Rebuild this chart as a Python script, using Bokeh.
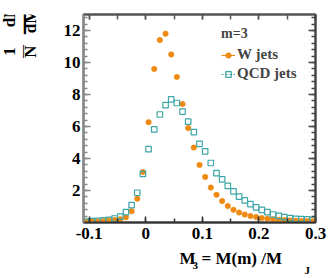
import math
from bokeh.plotting import figure
from bokeh.layouts import column, row
from bokeh.models import (ColumnDataSource, FixedTicker, LinearAxis, Label, Legend, LegendItem, Range1d)
from bokeh.embed import file_html
from bokeh.resources import INLINE

# ---------------- data ----------------
bin_centers = [-0.105, -0.095, -0.085, -0.075, -0.065, -0.055, -0.045, -0.035, -0.025, -0.015,
               -0.005, 0.005, 0.015, 0.025, 0.035, 0.045, 0.055, 0.065, 0.075, 0.085,
               0.095, 0.105, 0.115, 0.125, 0.135, 0.145, 0.155, 0.165, 0.175, 0.185,
               0.195, 0.205, 0.215, 0.225, 0.235, 0.245, 0.255, 0.265, 0.275, 0.285, 0.295]
w_jets = [0.05, 0.06, 0.07, 0.09, 0.12, 0.15, 0.20, 0.33, 0.71, 1.48,
          3.15, 6.27, 9.6, 11.4, 11.8, 10.5, 9.1, 7.4, 5.9, 4.68,
          3.6, 2.85, 2.18, 1.73, 1.34, 1.03, 0.79, 0.62, 0.50, 0.41,
          0.34, 0.28, 0.23, 0.20, 0.17, 0.15, 0.13, 0.11, 0.10, 0.09, 0.08]
qcd_jets = [0.06, 0.08, 0.10, 0.13, 0.17, 0.25, 0.37, 0.65, 1.08, 1.86,
            3.04, 4.58, 5.82, 6.75, 7.33, 7.69, 7.47, 6.93, 6.30, 5.65,
            4.92, 4.45, 3.72, 3.09, 2.69, 2.29, 1.95, 1.62, 1.38, 1.15,
            0.95, 0.79, 0.65, 0.50, 0.42, 0.33, 0.27, 0.23, 0.21, 0.19, 0.17]
x_ticks = [-0.1, 0.0, 0.1, 0.2, 0.3]
x_tick_labels = ["-0.1", "0", "0.1", "0.2", "0.3"]
y_ticks = [2, 4, 6, 8, 10, 12]
legend_title = "m=3"
series_names = ["W jets", "QCD jets"]

ORANGE = "#ee8a12"
TEAL = "#3ea6a6"
FONT = "Liberation Serif"

YT_W = 50      # width of the y-title strip
MAIN_H = 250   # height of the main figure
XT_H = 278 - MAIN_H

src = ColumnDataSource(dict(x=bin_centers, w=w_jets, q=qcd_jets))

p = figure(width=332 - YT_W, height=MAIN_H, output_backend="svg", toolbar_location=None,
           title=None,
           x_range=Range1d(-0.11, 0.3), y_range=Range1d(0, 13),
           min_border_left=83 - YT_W, min_border_right=17, min_border_top=14,
           min_border_bottom=MAIN_H - 222,
           x_axis_location=None, y_axis_location=None)
p.grid.visible = False
p.outline_line_color = "#555555"
p.outline_line_width = 2
p.background_fill_color = "white"
p.border_fill_color = "white"

x_minor = [round(-0.1 + 0.05 * i, 3) for i in range(9)]
y_minor = [round(0.4 * i, 2) for i in range(1, 33)]

def style_axis(ax, ticks, labels=None, color="#808080", lw=2):
    ax.axis_line_color = color
    ax.axis_line_width = lw
    ax.major_tick_line_color = color
    ax.minor_tick_line_color = color
    ax.major_tick_line_width = 1.5
    ax.minor_tick_line_width = 1.5
    ax.major_tick_out = 0
    ax.minor_tick_out = 0
    ax.major_tick_in = 7
    ax.minor_tick_in = 4
    ax.major_label_text_font = FONT
    ax.major_label_text_font_style = "bold"
    ax.major_label_text_font_size = "17px"
    ax.major_label_text_color = "black"
    if labels is None:
        ax.major_label_overrides = {t: "" for t in ticks}
        ax.major_label_standoff = 0
    else:
        ax.major_label_overrides = {t: s for t, s in zip(ticks, labels)}

xb = LinearAxis(ticker=FixedTicker(ticks=x_ticks, minor_ticks=x_minor))
style_axis(xb, x_ticks, x_tick_labels, color="#333333")
xb.major_tick_in = 6
xb.minor_tick_in = 4
xb.major_label_standoff = 5
p.add_layout(xb, "below")
xt = LinearAxis(ticker=FixedTicker(ticks=x_ticks, minor_ticks=x_minor))
style_axis(xt, x_ticks, None, color="#555555")
xt.major_tick_in = 5
xt.minor_tick_in = 5
p.add_layout(xt, "above")
yl = LinearAxis(ticker=FixedTicker(ticks=y_ticks, minor_ticks=y_minor))
style_axis(yl, y_ticks, [str(t) for t in y_ticks], color="#888888")
yl.major_label_standoff = 3
p.add_layout(yl, "left")
yr = LinearAxis(ticker=FixedTicker(ticks=y_ticks, minor_ticks=y_minor))
style_axis(yr, y_ticks, None, color="#444444")
p.add_layout(yr, "right")

w_pts = p.scatter("x", "w", source=src, marker="circle", size=5.5,
                  fill_color=ORANGE, line_color=ORANGE, line_width=0.5)
q_pts = p.scatter("x", "q", source=src, marker="square", size=5.5,
                  fill_color=None, line_color=TEAL, line_width=1.2)
nan = float("nan")
w_line = p.line(x=[nan], y=[nan], line_color=ORANGE, line_width=1.2)
q_line = p.line(x=[nan], y=[nan], line_color=TEAL, line_width=1.2, line_dash="2 2")

legend = Legend(items=[LegendItem(label=series_names[0], renderers=[w_line, w_pts]),
                       LegendItem(label=series_names[1], renderers=[q_line, q_pts])],
                location=(138, 140), title=legend_title)
legend.title_text_font = FONT
legend.title_text_font_style = "bold"
legend.title_text_font_size = "14px"
legend.title_standoff = 4
legend.label_text_font = FONT
legend.label_text_font_style = "bold"
legend.label_text_font_size = "15px"
legend.glyph_width = 14
legend.glyph_height = 16
legend.label_height = 16
legend.label_standoff = 2
legend.spacing = 2
legend.padding = 0
legend.margin = 0
legend.border_line_color = None
legend.background_fill_alpha = 0
p.add_layout(legend)

# ---- strips that carry the axis titles ----
def strip(w, h):
    f = figure(width=w, height=h, output_backend="svg", toolbar_location=None, title=None,
               x_range=Range1d(0, w), y_range=Range1d(0, h),
               min_border_left=0, min_border_right=0, min_border_top=0, min_border_bottom=0,
               x_axis_location=None, y_axis_location=None)
    f.grid.visible = False
    f.outline_line_color = None
    return f

yfig = strip(YT_W, MAIN_H)
xfig = strip(332, XT_H)

# empirical offsets between intended page position and rendered position
Y_SHIFT_YFIG = 18
Y_SHIFT_XFIG = -6

def lab(f, text, px, py, size, angle=0.0, align="center", baseline="middle"):
    # px, py are page pixels; convert to the strip's own frame
    if f is yfig:
        top, h, py = 0, MAIN_H, py + Y_SHIFT_YFIG
    else:
        top, h, py = MAIN_H, XT_H, py + Y_SHIFT_XFIG
    f.add_layout(Label(x=px, y=h - (py - top), x_units="screen", y_units="screen", text=text,
                       angle=angle, text_align=align, text_baseline=baseline,
                       text_font=FONT, text_font_style="bold", text_font_size=f"{size}px",
                       text_color="black"))

R = math.pi / 2
lab(yfig, "1", 9, 61, 17, R)
lab(yfig, "dN", 9, 26, 17, R)
lab(yfig, "\u2014", 20.5, 61, 13, R)
lab(yfig, "\u2014", 20.5, 28, 31, R)
lab(yfig, "N", 30, 61, 17, R)
lab(yfig, "dM", 30, 30, 17, R)
lab(yfig, "3", 45, 16, 11, R)

lab(xfig, "M", 179, 264, 17, 0, "left", "alphabetic")
lab(xfig, "3", 192, 271, 11, 0, "left", "alphabetic")
lab(xfig, "= M(m) /M", 201, 264, 17, 0, "left", "alphabetic")
lab(xfig, "J", 304, 275, 11, 0, "left", "alphabetic")

layout = column(row(yfig, p, spacing=0), xfig, spacing=0)
open("out.html", "w").write(file_html(layout, INLINE))
